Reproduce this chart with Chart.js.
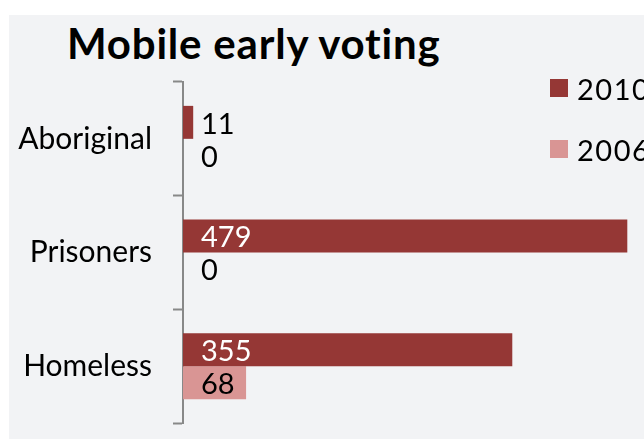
<!DOCTYPE html>
<html>
<head>
<meta charset="utf-8">
<script src="https://cdn.jsdelivr.net/npm/chart.js@4.4.0/dist/chart.umd.min.js"></script>
<style>
  body { margin: 0; background: #fff; font-family: Lato, sans-serif; }
  #wrap { position: relative; width: 644px; height: 439px; overflow: hidden; }
  #panel { position: absolute; left: 9px; top: 15px; right: 0; bottom: 0; background: #f2f3f5; }
  #title { position: absolute; left: 67px; top: 18px; font: bold 42px Lato, sans-serif; letter-spacing: 0.8px; color: #000; white-space: nowrap; }
  #legend { position: absolute; left: 550px; top: 72px; }
  .item { display: flex; align-items: center; height: 32px; margin-bottom: 29px; font-size: 29px; letter-spacing: 1.5px; white-space: nowrap; }
  .box { width: 18px; height: 18px; margin-right: 9px; }
  canvas { position: absolute; left: 0; top: 0; }
</style>
</head>
<body>
<div id="wrap">
  <div id="panel"></div>
  <div id="title">Mobile early voting</div>
  <canvas id="myChart" width="644" height="439"></canvas>
  <div id="legend"></div>
</div>
<script>
// values
const categories = ['Aboriginal', 'Prisoners', 'Homeless'];
const votes2010 = [11, 479, 355];
const votes2006 = [0, 0, 68];

const darkRed = '#953735';
const lightRed = '#d99594';
const axisGray = '#888888';

// draws the value next to the start of each bar
const barLabels = {
  id: 'barLabels',
  afterDatasetsDraw(chart) {
    const ctx = chart.ctx;
    const x0 = chart.scales.x.getPixelForValue(0);
    ctx.save();
    ctx.font = '29px Lato, sans-serif';
    ctx.textBaseline = 'middle';
    chart.data.datasets.forEach((ds, i) => {
      chart.getDatasetMeta(i).data.forEach((bar, j) => {
        const txt = String(ds.data[j]);
        const w = ctx.measureText(txt).width;
        ctx.fillStyle = (i === 0 && bar.x > x0 + 18 + w) ? '#fff' : '#000';
        ctx.fillText(txt, x0 + 18, bar.y + 2);
      });
    });
    ctx.restore();
  }
};

const ctx = document.getElementById('myChart');
const chart = new Chart(ctx, {
  type: 'bar',
  data: {
    labels: categories,
    datasets: [
      { label: '2010', data: votes2010, backgroundColor: darkRed },
      { label: '2006', data: votes2006, backgroundColor: lightRed }
    ]
  },
  options: {
    indexAxis: 'y',
    responsive: false,
    animation: false,
    layout: { padding: { top: 82, bottom: 16, left: 0, right: 0 } },
    datasets: { bar: { categoryPercentage: 0.58, barPercentage: 1 } },
    plugins: {
      legend: { display: false },
      tooltip: { enabled: false }
    },
    scales: {
      x: { display: false, min: 0, max: 497 },
      y: {
        afterFit: s => {
          s.width = 183;
          // labels sit in the middle of each band, no overflow room needed
          s.paddingTop = 0;
          s.paddingBottom = 0;
        },
        grid: { drawOnChartArea: false, offset: true, tickLength: 10, tickWidth: 2, tickColor: axisGray },
        border: { display: true, color: axisGray, width: 2 },
        ticks: { color: '#000', padding: 21, font: { family: 'Lato', size: 30 } }
      }
    }
  },
  plugins: [barLabels]
});

// legend built from the datasets
const legendEl = document.getElementById('legend');
chart.data.datasets.forEach(ds => {
  const row = document.createElement('div');
  row.className = 'item';
  row.innerHTML = '<span class="box" style="background:' + ds.backgroundColor + '"></span>' + ds.label;
  legendEl.appendChild(row);
});
</script>
</body>
</html>
